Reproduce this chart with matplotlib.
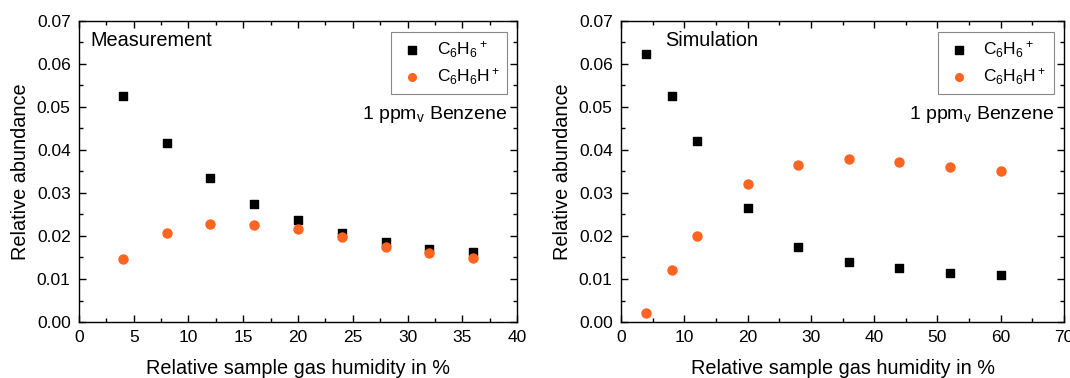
import matplotlib
matplotlib.use("Agg")
import matplotlib.pyplot as plt
from matplotlib.ticker import MultipleLocator, FormatStrFormatter

plt.rcParams['font.family'] = ['Liberation Sans', 'DejaVu Sans']
plt.rcParams['mathtext.default'] = 'regular'

# Measurement panel
meas_x = [4, 8, 12, 16, 20, 24, 28, 32, 36]
meas_c6h6 = [0.0525, 0.0415, 0.0334, 0.0274, 0.0237, 0.0208, 0.0186, 0.0170, 0.0162]
meas_c6h6h = [0.0147, 0.0206, 0.0228, 0.0226, 0.0216, 0.0197, 0.0175, 0.0161, 0.0149]

# Simulation panel
sim_x = [4, 8, 12, 20, 28, 36, 44, 52, 60]
sim_c6h6 = [0.0622, 0.0525, 0.0420, 0.0265, 0.0175, 0.0140, 0.0125, 0.0115, 0.0110]
sim_c6h6h = [0.0020, 0.0120, 0.0200, 0.0320, 0.0365, 0.0380, 0.0373, 0.0361, 0.0350]

labels = ['C$_6$H$_6$$^+$', 'C$_6$H$_6$H$^+$']
titles = ['Measurement', 'Simulation']
xlabel = 'Relative sample gas humidity in %'
ylabel = 'Relative abundance'
note = '1 ppm$_v$ Benzene'

orange = '#FF6420'

fig = plt.figure(figsize=(10.7, 3.78), dpi=100)
ax1 = fig.add_axes([0.0738, 0.148, 0.4094, 0.797])
ax2 = fig.add_axes([0.5804, 0.148, 0.4140, 0.797])

panels = [
    (ax1, meas_x, meas_c6h6, meas_c6h6h, 40, 5, 2.5, titles[0], 0.025),
    (ax2, sim_x, sim_c6h6, sim_c6h6h, 70, 10, 5, titles[1], 0.10),
]

for ax, x, a, b, xmax, maj, mnr, title, tx in panels:
    ax.scatter(x, a, marker='s', s=36, color='black', label=labels[0], zorder=3)
    ax.scatter(x, b, marker='o', s=42, color=orange, label=labels[1], zorder=3)
    ax.set_xlim(0, xmax)
    ax.set_ylim(0, 0.07)
    ax.xaxis.set_major_locator(MultipleLocator(maj))
    ax.xaxis.set_minor_locator(MultipleLocator(mnr))
    ax.yaxis.set_major_locator(MultipleLocator(0.01))
    ax.yaxis.set_minor_locator(MultipleLocator(0.005))
    ax.yaxis.set_major_formatter(FormatStrFormatter('%.2f'))
    ax.tick_params(which='both', direction='in', top=True, right=True, labelsize=12.5, width=1, pad=6)
    ax.tick_params(which='major', length=5)
    ax.tick_params(which='minor', length=3)
    for s in ax.spines.values():
        s.set_linewidth(1)
    ax.set_xlabel(xlabel, fontsize=14.3, labelpad=10)
    ax.set_ylabel(ylabel, fontsize=14.3, labelpad=5)
    ax.text(tx, 0.935, title, transform=ax.transAxes, fontsize=14.3, va='center', ha='left')
    ax.text(0.977, 0.69, note, transform=ax.transAxes, fontsize=14, va='center', ha='right')
    leg = ax.legend(loc='upper right', bbox_to_anchor=(0.977, 0.963), borderaxespad=0,
                    fontsize=12.5, frameon=True, fancybox=False, edgecolor='#888888', framealpha=1,
                    handlelength=1.6, handletextpad=0.6, borderpad=0.4, labelspacing=0.4,
                    markerscale=0.85)
    leg.get_frame().set_linewidth(0.8)

fig.savefig('out.png', dpi=100)
